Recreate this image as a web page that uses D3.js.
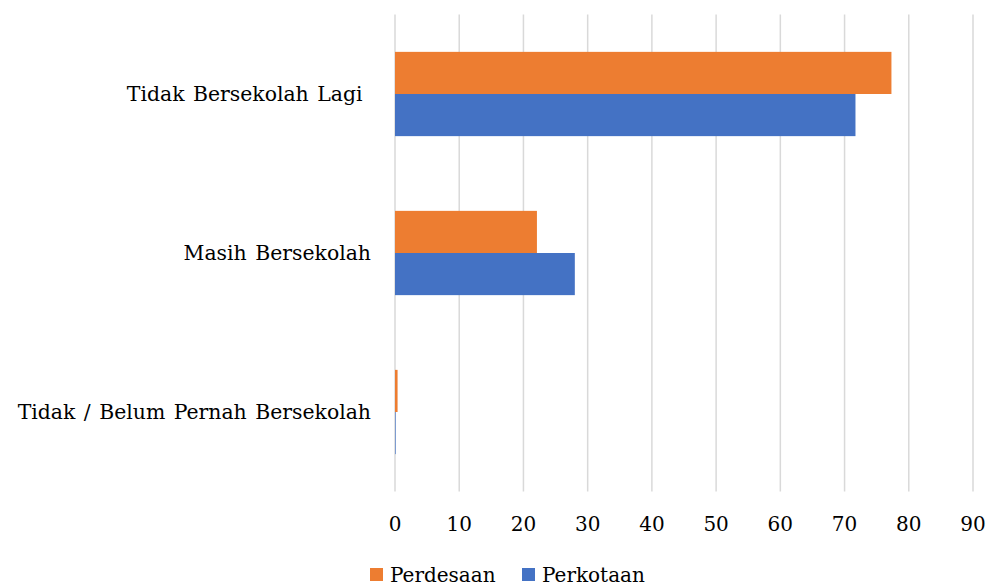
<!DOCTYPE html>
<html lang="id">
<head>
<meta charset="utf-8">
<script src="https://d3js.org/d3.v7.min.js"></script>
<style>
  body { margin: 0; background: #fff; }
  text { font-family: "DejaVu Serif", serif; fill: #000; }
  .cat { white-space: pre; word-spacing: 2px; }
</style>
</head>
<body>
<script>
  // categories listed top to bottom
  var categories = ["Tidak Bersekolah Lagi ", "Masih Bersekolah", "Tidak / Belum Pernah Bersekolah"];
  var seriesNames = ["Perdesaan", "Perkotaan"];
  var perdesaan = [77.3, 22.1, 0.4];
  var perkotaan = [71.7, 28.0, 0.1];
  var xTicks = [0, 10, 20, 30, 40, 50, 60, 70, 80, 90];
  var colors = ["#ED7D31", "#4472C4"];

  var W = 988, H = 586;
  var plotL = 395, plotR = 973, plotT = 14.5, plotB = 491.5;

  var svg = d3.select("body").append("svg")
    .attr("width", W).attr("height", H);

  var x = d3.scaleLinear().domain([0, 90]).range([plotL, plotR]);
  var y = d3.scaleBand().domain(categories).range([plotT, plotB]).paddingInner(0.47).paddingOuter(0.235);
  var ySub = d3.scaleBand().domain(seriesNames).range([0, y.bandwidth()]);

  // gridlines
  svg.append("g").selectAll("line").data(xTicks).enter()
    .append("line")
    .attr("x1", function(d) { return x(d); })
    .attr("x2", function(d) { return x(d); })
    .attr("y1", plotT).attr("y2", plotB)
    .attr("stroke", "#d9d9d9").attr("stroke-width", 1.5);

  var rows = categories.map(function(c, i) {
    return { cat: c, vals: [perdesaan[i], perkotaan[i]] };
  });

  var g = svg.append("g").selectAll("g").data(rows).enter()
    .append("g")
    .attr("transform", function(d) { return "translate(0," + y(d.cat) + ")"; });

  g.selectAll("rect").data(function(d) { return d.vals.map(function(v, j) { return { s: seriesNames[j], v: v, j: j }; }); })
    .enter().append("rect")
    .attr("x", x(0))
    .attr("y", function(d) { return ySub(d.s); })
    .attr("width", function(d) { return x(d.v) - x(0); })
    .attr("height", ySub.bandwidth())
    .attr("fill", function(d) { return colors[d.j]; });

  // category labels
  svg.append("g").selectAll("text").data(categories).enter()
    .append("text")
    .attr("class", "cat")
    .attr("x", 371)
    .attr("y", function(d) { return y(d) + y.bandwidth() / 2; })
    .attr("dy", "0.35em")
    .attr("text-anchor", "end")
    .attr("font-size", 20.4)
    .text(function(d) { return d; });

  // x axis labels
  svg.append("g").selectAll("text").data(xTicks).enter()
    .append("text")
    .attr("x", function(d) { return x(d); })
    .attr("y", 531)
    .attr("text-anchor", "middle")
    .attr("font-size", 20)
    .text(function(d) { return d; });

  // legend
  var legX = [370, 522];
  var leg = svg.append("g").selectAll("g").data(seriesNames).enter()
    .append("g")
    .attr("transform", function(d, i) { return "translate(" + legX[i] + ",568)"; });
  leg.append("rect").attr("width", 13).attr("height", 13)
    .attr("fill", function(d, i) { return colors[i]; });
  leg.append("text").attr("x", 20).attr("y", 14).attr("font-size", 20)
    .text(function(d) { return d; });
</script>
</body>
</html>
